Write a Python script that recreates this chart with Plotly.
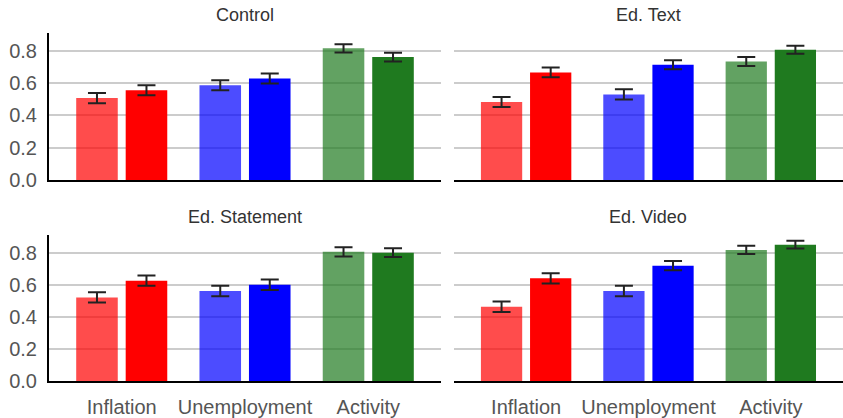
import plotly.graph_objects as go

categories = ["Inflation", "Unemployment", "Activity"]
panels = ["Control", "Ed. Text", "Ed. Statement", "Ed. Video"]

# first (lighter) bar and second (darker) bar per category, per panel
first_vals = {
    "Control":       [0.507, 0.587, 0.815],
    "Ed. Text":      [0.483, 0.530, 0.734],
    "Ed. Statement": [0.521, 0.561, 0.805],
    "Ed. Video":     [0.463, 0.561, 0.817],
}
first_err = {
    "Control":       [0.032, 0.031, 0.025],
    "Ed. Text":      [0.031, 0.032, 0.028],
    "Ed. Statement": [0.032, 0.033, 0.029],
    "Ed. Video":     [0.033, 0.032, 0.026],
}
second_vals = {
    "Control":       [0.556, 0.628, 0.761],
    "Ed. Text":      [0.666, 0.714, 0.806],
    "Ed. Statement": [0.625, 0.600, 0.800],
    "Ed. Video":     [0.640, 0.719, 0.850],
}
second_err = {
    "Control":       [0.031, 0.031, 0.027],
    "Ed. Text":      [0.030, 0.028, 0.025],
    "Ed. Statement": [0.032, 0.032, 0.027],
    "Ed. Video":     [0.032, 0.029, 0.024],
}

light_colors = ["rgba(255,0,0,0.7)", "rgba(0,0,255,0.7)", "rgba(31,122,31,0.7)"]
dark_colors = ["rgb(255,0,0)", "rgb(0,0,255)", "rgb(31,122,31)"]

FONT = "Liberation Sans, Arial, sans-serif"

# panel domains (x, y)
xdoms = [[0.0, 0.4937], [0.510, 1.0]]
ydoms = [[0.5776, 1.0], [0.0, 0.4195]]

fig = go.Figure()
layout = dict(
    width=843, height=418,
    margin=dict(l=49, r=0, t=33, b=37),
    plot_bgcolor="white", paper_bgcolor="white",
    showlegend=False,
    barmode="group", bargap=0.197, bargroupgap=0.16,
    font=dict(family=FONT, color="#555555"),
)

annotations = []
for i, name in enumerate(panels):
    row, col = divmod(i, 2)
    idx = i + 1
    xa = "x" if idx == 1 else f"x{idx}"
    ya = "y" if idx == 1 else f"y{idx}"
    err_style = dict(type="data", thickness=2, width=9, color="#222222")
    fig.add_trace(go.Bar(
        x=categories, y=first_vals[name], xaxis=xa, yaxis=ya,
        marker=dict(color=light_colors, line=dict(width=0)),
        error_y=dict(array=first_err[name], **err_style),
        offsetgroup="a",
    ))
    fig.add_trace(go.Bar(
        x=categories, y=second_vals[name], xaxis=xa, yaxis=ya,
        marker=dict(color=dark_colors, line=dict(width=0)),
        error_y=dict(array=second_err[name], **err_style),
        offsetgroup="b",
    ))
    xkey = "xaxis" if idx == 1 else f"xaxis{idx}"
    ykey = "yaxis" if idx == 1 else f"yaxis{idx}"
    layout[xkey] = dict(
        domain=xdoms[col], anchor=ya, range=[-0.59, 2.59],
        showline=True, linecolor="black", linewidth=2,
        showgrid=False, ticks="",
        showticklabels=(row == 1),
        tickfont=dict(size=20, color="#555555", family=FONT),
        ticklabelstandoff=7,
    )
    layout[ykey] = dict(
        domain=ydoms[row], anchor=xa, range=[0, 0.91],
        tickvals=[0, 0.2, 0.4, 0.6, 0.8], tickformat=".1f",
        showgrid=True, gridcolor="#cccccc", gridwidth=2,
        zeroline=False,
        showline=(col == 0), linecolor="black", linewidth=2,
        showticklabels=(col == 0), ticks="",
        tickfont=dict(size=20, color="#555555", family=FONT),
        ticklabelstandoff=6,
    )
    title_y = 1.0517 if row == 0 else 0.47
    annotations.append(dict(
        text=name, x=sum(xdoms[col]) / 2, y=title_y, xref="paper", yref="paper",
        xanchor="center", yanchor="middle", showarrow=False,
        font=dict(size=18, color="#333333", family=FONT),
    ))

layout["annotations"] = annotations
fig.update_layout(**layout)
fig.write_html("out.html")
